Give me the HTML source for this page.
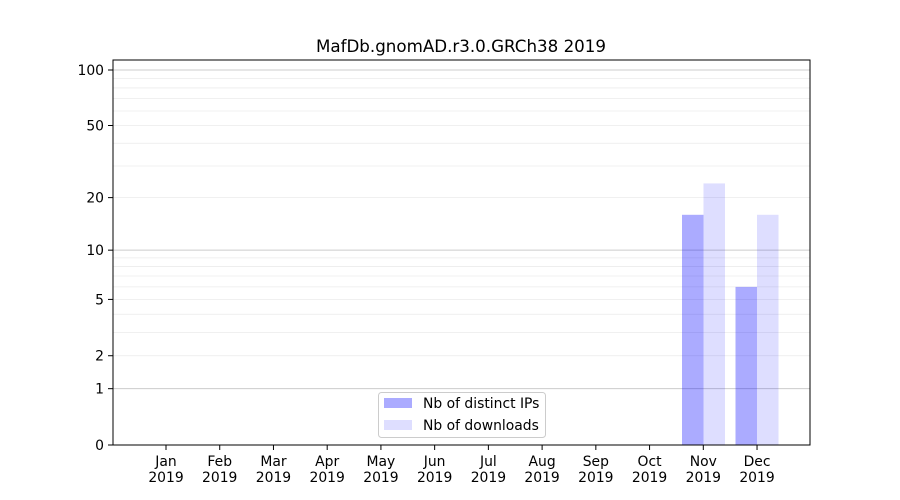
<!DOCTYPE html>
<html><head><meta charset="utf-8"><style>body{margin:0;background:#fff}svg{display:block}text{font-family:"DejaVu Sans","Liberation Sans",sans-serif;font-size:13.9px;fill:#000}</style></head><body>
<svg width="900" height="500" viewBox="0 0 900 500">
<rect width="900" height="500" fill="#fff"/>
<g id="grid"></g>
<text x="461" y="52" text-anchor="middle" style="font-size:16.7px">MafDb.gnomAD.r3.0.GRCh38 2019</text>
<rect x="682" y="214.8" width="21.5" height="230.2" fill="#0000ff" fill-opacity="0.33"/>
<rect x="703.5" y="183.4" width="21.5" height="261.6" fill="#0000ff" fill-opacity="0.13"/>
<rect x="735.5" y="286.9" width="21.5" height="158.1" fill="#0000ff" fill-opacity="0.33"/>
<rect x="757" y="214.8" width="21.5" height="230.2" fill="#0000ff" fill-opacity="0.13"/>
<rect x="113" y="60" width="697" height="385" fill="none" stroke="#000" stroke-width="1"/>
<g id="yt"></g><g id="xt"></g>
<rect x="378.5" y="392.5" width="167" height="45" rx="3" fill="#fff" fill-opacity="0.8" stroke="#ccc"/>
<rect x="384" y="398" width="28" height="10" fill="#0000ff" fill-opacity="0.33"/>
<rect x="384" y="420" width="28" height="10" fill="#0000ff" fill-opacity="0.13"/>
<text x="423" y="408">Nb of distinct IPs</text>
<text x="423" y="430">Nb of downloads</text>
<script>
var ns="http://www.w3.org/2000/svg";
function Y(v){return 445-187.1*Math.log10(1+v);}
function el(p,t,a,txt){var e=document.createElementNS(ns,t);for(var k in a)e.setAttribute(k,a[k]);if(txt!==undefined)e.textContent=txt;document.getElementById(p).appendChild(e);}
[2,3,4,5,6,7,8,9,20,30,40,50,60,70,80,90].forEach(function(v){var y=Y(v);el("grid","line",{x1:113,x2:810,y1:y,y2:y,stroke:"#ebebeb","stroke-width":0.8});});
[1,10,100].forEach(function(v){var y=Y(v);el("grid","line",{x1:113,x2:810,y1:y,y2:y,stroke:"#cccccc","stroke-width":1});});
[0,1,2,5,10,20,50,100].forEach(function(v){var y=Y(v);el("yt","line",{x1:108,x2:113,y1:y,y2:y,stroke:"#000"});el("yt","text",{x:104,y:y+5,"text-anchor":"end"},v);});
var m=["Jan","Feb","Mar","Apr","May","Jun","Jul","Aug","Sep","Oct","Nov","Dec"];
m.forEach(function(s,i){var x=166+i*53.73;el("xt","line",{x1:x,x2:x,y1:445,y2:450,stroke:"#000"});el("xt","text",{x:x,y:466,"text-anchor":"middle"},s);el("xt","text",{x:x,y:482,"text-anchor":"middle"},"2019");});
</script>
</svg></body></html>
